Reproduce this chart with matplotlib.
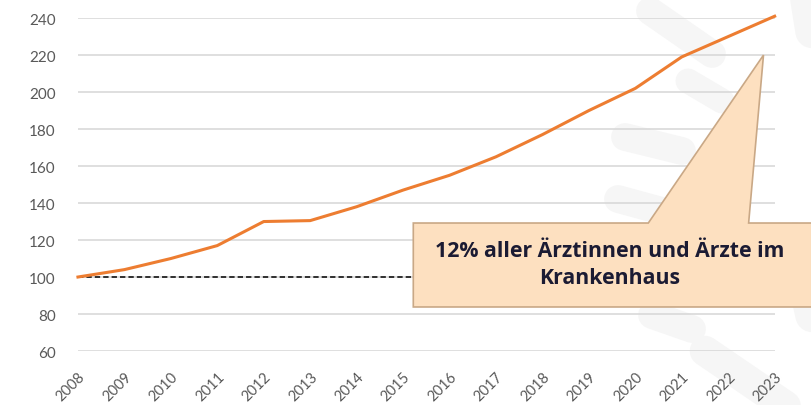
import matplotlib
matplotlib.use("Agg")
import matplotlib.pyplot as plt
from matplotlib.patches import Polygon
from matplotlib.lines import Line2D

# --- data ---
years = list(range(2008, 2024))
index_values = [100, 104, 110, 117, 130, 130.5, 138, 147, 155, 165, 177, 190, 202, 219, 230, 241]
y_ticks = [60, 80, 100, 120, 140, 160, 180, 200, 220, 240]
baseline = 100
note = "12% aller Ärztinnen und Ärzte im\nKrankenhaus"

ORANGE = '#ED7D31'; GRID = '#d9d9d9'; TICK = '#595959'
BOX_FILL = '#FDE0C0'; BOX_EDGE = '#C9A886'; TXT = '#1b1b33'

plt.rcParams['font.family'] = ['Lato', 'DejaVu Sans']

W, H = 812, 406
fig = plt.figure(figsize=(W / 100, H / 100), dpi=100, facecolor='white')

# faint background logo strokes (pixel positions -> figure coords)
strokes = [(650, 12, 712, 55, 20), (688, 82, 722, 102, 18), (625, 138, 682, 152, 20),
           (618, 200, 662, 212, 20), (652, 316, 692, 330, 20), (705, 352, 790, 410, 22),
           (806, -5, 818, 70, 24), (795, 240, 815, 330, 24)]
for (x0, y0, x1, y1, w) in strokes:
    fig.add_artist(Line2D([x0 / W, x1 / W], [1 - y0 / H, 1 - y1 / H], transform=fig.transFigure,
                          color='#f6f6f6', lw=w, solid_capstyle='round', zorder=0))

ax = fig.add_axes([0.096, 0.133, 0.858, 0.82])
ax.patch.set_alpha(0)
ax.set_xlim(years[0], years[-1])
ax.set_ylim(y_ticks[0], y_ticks[-1])
ax.set_yticks(y_ticks)
ax.set_xticks(years)
ax.set_xticklabels([str(y) for y in years], rotation=45, ha='right', va='top',
                   rotation_mode='anchor', fontsize=10.5, color=TICK)
ax.tick_params(axis='x', length=0, pad=13)
ax.tick_params(axis='y', length=0, pad=16, labelsize=11, labelcolor=TICK)
for s in ax.spines.values():
    s.set_visible(False)
ax.grid(axis='y', color=GRID, lw=1.2)
ax.set_axisbelow(True)

ax.plot([years[0], years[-1]], [baseline, baseline], ls='--', color='black', lw=1.1,
        dashes=(3.5, 2), zorder=2)
ax.plot(years, index_values, color=ORANGE, lw=2.2, zorder=3, clip_on=False)

# callout box with pointer
bx0, bx1, by0, by1 = 2015.22, 2023.8, 83.8, 129.2
tip = (2022.76, 220)
pts = [(bx0, by0), (bx0, by1), (2020.28, by1), tip, (2022.44, by1), (bx1, by1), (bx1, by0)]
ax.add_patch(Polygon(pts, closed=True, facecolor=BOX_FILL, edgecolor=BOX_EDGE, lw=1.2,
                     zorder=4, clip_on=False))
ax.text(2019.45, (by0 + by1) / 2 + 0.5, note, ha='center', va='center',
        fontsize=15.3, fontweight='bold', color=TXT, linespacing=1.35, zorder=5,
        family=['Open Sans', 'DejaVu Sans'])

fig.savefig('out.png', dpi=100, facecolor='white')
